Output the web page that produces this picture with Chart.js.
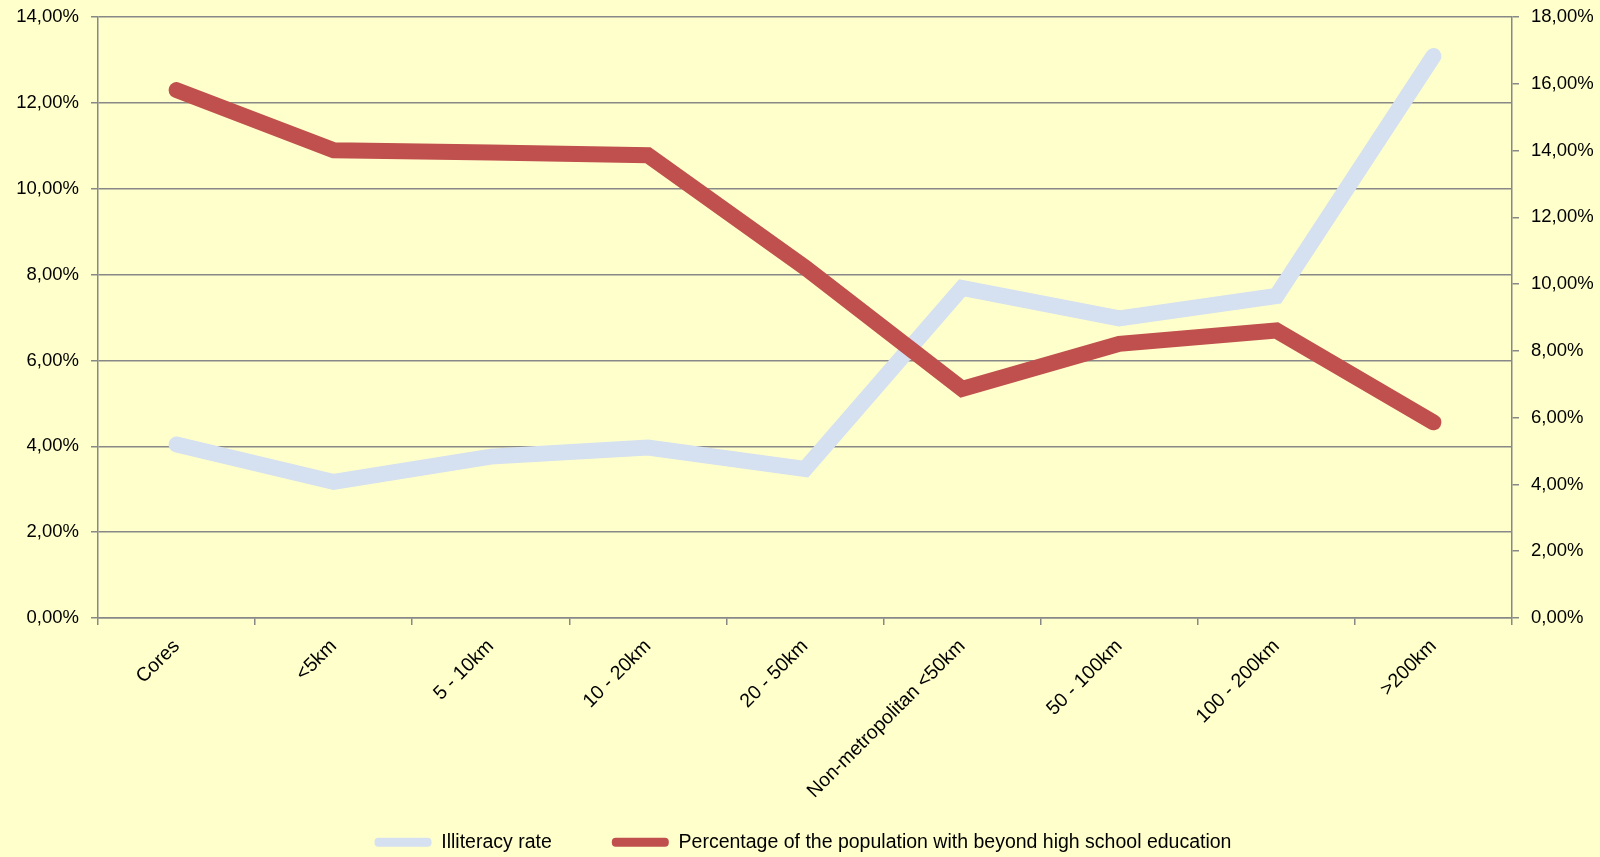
<!DOCTYPE html>
<html>
<head>
<meta charset="utf-8">
<script src="https://cdn.jsdelivr.net/npm/chart.js@4.4.0/dist/chart.umd.min.js"></script>
<style>
  html, body { margin: 0; padding: 0; background: #FFFFCC; }
  #wrap { width: 1600px; height: 857px; }
</style>
</head>
<body>
<div id="wrap"><canvas id="chart" width="1600" height="857"></canvas></div>
<script>
const categories = ['Cores', '<5km', '5 - 10km', '10 - 20km', '20 - 50km', 'Non-metropolitan <50km', '50 - 100km', '100 - 200km', '>200km'];
const illiteracy = [4.04, 3.17, 3.76, 3.97, 3.47, 7.69, 6.98, 7.50, 13.09];
const beyondHighSchool = [15.81, 14.01, 13.94, 13.86, 10.5, 6.86, 8.21, 8.61, 5.86];
const leftTicks = [0, 2, 4, 6, 8, 10, 12, 14];
const rightTicks = [0, 2, 4, 6, 8, 10, 12, 14, 16, 18];

const fontFamily = '"Liberation Sans", Arial, sans-serif';
const gridColor = '#888888';

function pct(v) {
    return v.toFixed(2).replace('.', ',') + '%';
}

Chart.defaults.font.family = fontFamily;
Chart.defaults.font.size = 18.5;
Chart.defaults.color = '#000';

const ctx = document.getElementById('chart').getContext('2d');
new Chart(ctx, {
    type: 'line',
    data: {
        labels: categories,
        datasets: [{
            label: 'Illiteracy rate',
            data: illiteracy,
            yAxisID: 'y',
            borderColor: '#D5E0F0',
            backgroundColor: '#D5E0F0',
            borderWidth: 16,
            borderCapStyle: 'round',
            pointRadius: 0,
            tension: 0,
            order: 2
        }, {
            label: 'Percentage of the population with beyond high school education',
            data: beyondHighSchool,
            yAxisID: 'y1',
            borderColor: '#C0504D',
            backgroundColor: '#C0504D',
            borderWidth: 16,
            borderCapStyle: 'round',
            pointRadius: 0,
            tension: 0,
            order: 1
        }]
    },
    options: {
        responsive: false,
        animation: false,
        layout: { padding: { top: 17, bottom: -5, left: 6, right: 0 } },
        plugins: {
            tooltip: { enabled: false },
            legend: {
                position: 'bottom',
                labels: {
                    font: { size: 19.5 },
                    boxWidth: 57,
                    boxHeight: 9,
                    padding: 60,
                    useBorderRadius: true,
                    borderRadius: 4,
                    sort: (a, b) => a.datasetIndex - b.datasetIndex,
                    generateLabels: chart => Chart.defaults.plugins.legend.labels.generateLabels(chart)
                        .map(l => ({ ...l, lineWidth: 0 }))
                }
            }
        },
        scales: {
            x: {
                offset: true,
                grid: { offset: true, drawOnChartArea: false, color: gridColor, lineWidth: 1.5, tickLength: 7 },
                border: { color: gridColor, width: 1.5 },
                ticks: { minRotation: 45, maxRotation: 45, padding: 10, font: { size: 19.5 } },
                afterFit: s => {
                    s.height = 154.5;
                    // long rotated labels run into the legend band, don't clip them
                    s._computeLabelArea = () => undefined;
                }
            },
            y: {
                position: 'left',
                min: 0,
                max: 14,
                afterBuildTicks: s => { s.ticks = leftTicks.map(v => ({ value: v })); },
                ticks: { callback: v => pct(v), padding: 12 },
                grid: { color: gridColor, lineWidth: 1.5, tickLength: 7 },
                border: { color: gridColor, width: 1.5 },
                afterFit: s => { s.width = 92; s.paddingTop = 0; s.paddingBottom = 0; }
            },
            y1: {
                position: 'right',
                min: 0,
                max: 18,
                afterBuildTicks: s => { s.ticks = rightTicks.map(v => ({ value: v })); },
                ticks: { callback: v => pct(v), padding: 12 },
                grid: { drawOnChartArea: false, color: gridColor, lineWidth: 1.5, tickLength: 7 },
                border: { color: gridColor, width: 1.5 },
                afterFit: s => { s.width = 88; s.paddingTop = 0; s.paddingBottom = 0; }
            }
        }
    }
});
</script>
</body>
</html>
